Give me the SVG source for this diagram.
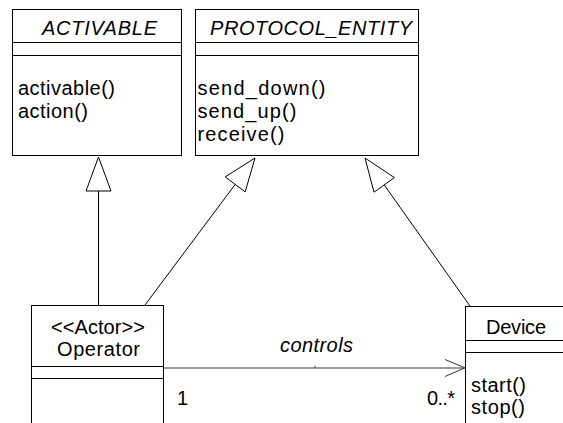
<svg xmlns="http://www.w3.org/2000/svg" width="563" height="423" viewBox="0 0 563 423">
<style>
.box{fill:#fff;stroke:#000;stroke-width:1}
.ln{stroke:#000;stroke-width:1;fill:none}
.t{font-family:"Liberation Sans",Arial,sans-serif;font-size:20px;fill:#000}
.i{font-style:italic}
.tri{fill:#fff;stroke:#000;stroke-width:1}
.assoc{stroke:#7a7a7a;stroke-width:1.5;fill:none}
.head{stroke:#333;stroke-width:1;fill:none}
</style>
<rect width="563" height="423" fill="#fff"/>
<g id="connectors">
  <line class="ln" x1="98.5" y1="305" x2="98.5" y2="191"/>
  <polygon class="tri" points="98.5,157 86,191 111,191"/>
  <line class="ln" x1="145" y1="305" x2="235.2" y2="184.4"/>
  <polygon class="tri" points="255,158 245.2,191.9 225.2,176.9"/>
  <line class="ln" x1="470" y1="306" x2="384.2" y2="184.9"/>
  <polygon class="tri" points="365,158 394.4,177.6 374,192.2"/>
  <line class="assoc" x1="163.5" y1="368" x2="465" y2="368"/>
  <line x1="315" y1="365.5" x2="315" y2="368" stroke="#555" stroke-width="1"/>
  <polyline class="head" points="445,359.5 465,367.8 445,376.5"/>
  <text class="t i" x="280" y="352" textLength="73" lengthAdjust="spacing">controls</text>
  <text class="t" x="177" y="405">1</text>
  <text class="t" x="427" y="405" textLength="28" lengthAdjust="spacing">0..*</text>
</g>
<g id="activable">
  <rect class="box" x="12.5" y="9.5" width="169" height="146"/>
  <line class="ln" x1="12.5" y1="42.5" x2="181.5" y2="42.5"/>
  <line class="ln" x1="12.5" y1="55.5" x2="181.5" y2="55.5"/>
  <text class="t i" x="42" y="35" textLength="115" lengthAdjust="spacing">ACTIVABLE</text>
  <text class="t" x="18" y="95" textLength="97" lengthAdjust="spacing">activable()</text>
  <text class="t" x="18" y="118" textLength="70" lengthAdjust="spacing">action()</text>
</g>
<g id="protocol_entity">
  <rect class="box" x="195.5" y="9.5" width="223" height="146"/>
  <line class="ln" x1="195.5" y1="42.5" x2="418.5" y2="42.5"/>
  <line class="ln" x1="195.5" y1="55.5" x2="418.5" y2="55.5"/>
  <text class="t i" x="210" y="35" textLength="202" lengthAdjust="spacing">PROTOCOL_ENTITY</text>
  <text class="t" x="197.5" y="95" textLength="128" lengthAdjust="spacing">send_down()</text>
  <text class="t" x="197.5" y="118" textLength="99" lengthAdjust="spacing">send_up()</text>
  <text class="t" x="197.5" y="141" textLength="87" lengthAdjust="spacing">receive()</text>
</g>
<g id="operator">
  <rect class="box" x="31.5" y="305.5" width="132" height="130"/>
  <line class="ln" x1="31.5" y1="366.5" x2="163.5" y2="366.5"/>
  <line class="ln" x1="31.5" y1="378.5" x2="163.5" y2="378.5"/>
  <text class="t" x="51" y="334" textLength="94" lengthAdjust="spacing">&lt;&lt;Actor&gt;&gt;</text>
  <text class="t" x="57" y="356" textLength="83" lengthAdjust="spacing">Operator</text>
</g>
<g id="device">
  <rect class="box" x="465.5" y="306.5" width="120" height="130"/>
  <line class="ln" x1="465.5" y1="340.5" x2="585" y2="340.5"/>
  <line class="ln" x1="465.5" y1="352.5" x2="585" y2="352.5"/>
  <text class="t" x="486" y="334" textLength="60" lengthAdjust="spacing">Device</text>
  <text class="t" x="471" y="392" textLength="55" lengthAdjust="spacing">start()</text>
  <text class="t" x="471" y="414" textLength="54" lengthAdjust="spacing">stop()</text>
</g>
</svg>
